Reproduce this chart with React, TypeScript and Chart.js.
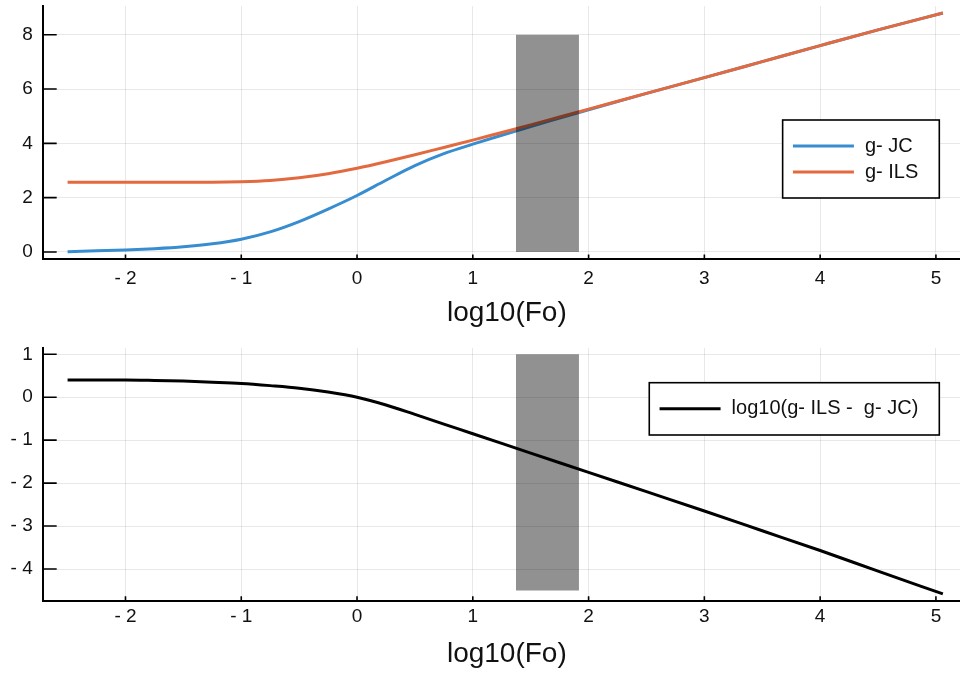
import React, { useEffect, useRef } from 'react';
import { Chart, registerables } from 'chart.js';

Chart.register(...registerables);

// ---- data ----
const xs = [-2.5, -2.25, -2, -1.75, -1.5, -1.25, -1, -0.75, -0.5, -0.25, 0, 0.25, 0.5, 0.75, 1, 1.25, 1.5, 1.75, 2, 2.5, 3, 3.5, 4, 4.5, 5.06];
const gJC = [0.01, 0.04, 0.07, 0.12, 0.19, 0.3, 0.47, 0.74, 1.12, 1.58, 2.08, 2.64, 3.18, 3.62, 3.97, 4.3, 4.62, 4.93, 5.24, 5.84, 6.42, 7.01, 7.6, 8.18, 8.8];
const gILS = [2.57, 2.57, 2.57, 2.57, 2.57, 2.57, 2.585, 2.63, 2.73, 2.88, 3.08, 3.32, 3.58, 3.85, 4.12, 4.4, 4.68, 4.97, 5.26, 5.84, 6.42, 7.01, 7.6, 8.18, 8.8];
const logDiff = [0.4, 0.4, 0.4, 0.39, 0.375, 0.35, 0.32, 0.27, 0.21, 0.12, 0.0, -0.18, -0.4, -0.625, -0.85, -1.075, -1.3, -1.525, -1.75, -2.2, -2.65, -3.11, -3.57, -4.05, -4.58];

const bandX = [1.373, 1.917];
const topBandY = [0, 8];
const bottomBandY = [-4.5, 1];

const xTickValues = [-2, -1, 0, 1, 2, 3, 4, 5];
const topYTickValues = [0, 2, 4, 6, 8];
const bottomYTickValues = [-4, -3, -2, -1, 0, 1];

const xRange = [-2.715, 5.303];
const topYRange = [-0.26, 9.06];
const bottomYRange = [-4.738, 1.146];

const nameJC = 'g- JC';
const nameILS = 'g- ILS';
const nameDiff = 'log10(g- ILS -  g- JC)';
const xTitle = 'log10(Fo)';

// ---- styles ----
const FONT = '"Liberation Sans", Arial, Helvetica, sans-serif';
const TEXT = '#111';
const BLUE = '#388dd0';
const ORANGE = '#e36a3f';
const BAND = 'rgba(0,0,0,0.43)';
const GRID = 'rgba(0,0,0,0.09)';

const fmt = (v: number) => (v < 0 ? '- ' + Math.abs(v) : String(v));

const innerTicks = {
  id: 'innerTicks',
  afterDatasetsDraw(chart: any) {
    const { ctx, chartArea: ca, scales } = chart;
    ctx.save();
    ctx.strokeStyle = '#000';
    ctx.lineWidth = 1.6;
    ctx.beginPath();
    scales.x.ticks.forEach((t: any) => {
      const p = scales.x.getPixelForValue(t.value);
      ctx.moveTo(p, ca.bottom);
      ctx.lineTo(p, ca.bottom - 4.5);
    });
    scales.y.ticks.forEach((t: any) => {
      const p = scales.y.getPixelForValue(t.value);
      ctx.moveTo(ca.left, p);
      ctx.lineTo(ca.left + 14, p);
    });
    ctx.stroke();
    ctx.restore();
  },
};

const boxLegend = {
  id: 'boxLegend',
  afterDraw(chart: any, _args: any, opts: any) {
    const { ctx, chartArea: ca } = chart;
    const items = chart.data.datasets.filter((d: any) => d.inLegend);
    ctx.save();
    ctx.font = `20px ${FONT}`;
    const tw = Math.max(...items.map((d: any) => ctx.measureText(d.label).width));
    const row = opts.row || 26;
    const w = 82.3 + tw + 21;
    const h = row * (items.length + 1);
    const right = ca.right - opts.right;
    const left = right - w;
    const top = ca.top + opts.top;
    ctx.fillStyle = '#fff';
    ctx.fillRect(left, top, w, h);
    ctx.strokeStyle = '#000';
    ctx.lineWidth = 1.6;
    ctx.strokeRect(left, top, w, h);
    items.forEach((d: any, i: number) => {
      const y = top + row * (i + 1);
      ctx.strokeStyle = d.borderColor;
      ctx.lineWidth = 3;
      ctx.beginPath();
      ctx.moveTo(left + 10.3, y);
      ctx.lineTo(left + 71.3, y);
      ctx.stroke();
      ctx.fillStyle = TEXT;
      ctx.textBaseline = 'middle';
      ctx.textAlign = 'left';
      ctx.fillText(d.label, left + 82.3, y);
    });
    ctx.restore();
  },
};

function pts(ys: number[]) {
  return xs.map((x, i) => ({ x, y: ys[i] }));
}

function bandDataset(yr: number[]) {
  return {
    label: 'band',
    data: [
      { x: bandX[0], y: yr[1] },
      { x: bandX[1], y: yr[1] },
    ],
    fill: { value: yr[0] },
    backgroundColor: BAND,
    borderColor: 'rgba(0,0,0,0)',
    borderWidth: 0,
    pointRadius: 0,
    tension: 0,
    order: 0,
    inLegend: false,
  };
}

function curve(label: string, ys: number[], color: string, order: number) {
  return {
    label,
    data: pts(ys),
    borderColor: color,
    backgroundColor: color,
    borderWidth: 3,
    pointRadius: 0,
    fill: false,
    cubicInterpolationMode: 'monotone',
    order,
    inLegend: true,
  };
}

function scales(yr: number[], yTicks: number[], xAxisH: number, tickPad: number, titlePadB: number) {
  return {
    x: {
      type: 'linear',
      min: xRange[0],
      max: xRange[1],
      afterBuildTicks: (s: any) => {
        s.ticks = xTickValues.map((v) => ({ value: v }));
      },
      afterFit: (s: any) => {
        s.height = xAxisH;
        s.paddingLeft = 0;
        s.paddingRight = 0;
      },
      ticks: {
        callback: (v: any) => fmt(Number(v)),
        font: { family: FONT, size: 19 },
        color: TEXT,
        padding: tickPad,
        maxRotation: 0,
        autoSkip: false,
      },
      grid: { color: GRID, lineWidth: 1, drawTicks: false },
      border: { color: '#000', width: 2 },
      title: {
        display: true,
        text: xTitle,
        font: { family: FONT, size: 28 },
        color: TEXT,
        padding: { top: 0, bottom: titlePadB },
      },
    },
    y: {
      type: 'linear',
      min: yr[0],
      max: yr[1],
      afterBuildTicks: (s: any) => {
        s.ticks = yTicks.map((v) => ({ value: v }));
      },
      afterFit: (s: any) => {
        s.width = 42.7;
        s.paddingTop = 0;
        s.paddingBottom = 0;
      },
      ticks: {
        callback: (v: any) => fmt(Number(v)),
        font: { family: FONT, size: 19 },
        color: TEXT,
        padding: 10,
      },
      grid: { color: GRID, lineWidth: 1, drawTicks: false },
      border: { color: '#000', width: 2 },
    },
  };
}

export default function App() {
  const topRef = useRef<HTMLCanvasElement>(null);
  const botRef = useRef<HTMLCanvasElement>(null);

  useEffect(() => {
    const top = new Chart(topRef.current as HTMLCanvasElement, {
      type: 'line',
      data: {
        datasets: [curve(nameJC, gJC, BLUE, 2), curve(nameILS, gILS, ORANGE, 1), bandDataset(topBandY)] as any,
      },
      options: {
        animation: false,
        responsive: false,
        devicePixelRatio: 1,
        events: [],
        layout: { padding: { top: 6, right: 0, left: 0, bottom: 0 } },
        scales: scales(topYRange, topYTickValues, 78, 8, 7.4) as any,
        plugins: {
          legend: { display: false },
          tooltip: { enabled: false },
          boxLegend: { right: 31.7, top: 114, row: 26 },
        } as any,
      },
      plugins: [innerTicks, boxLegend],
    });

    const bottom = new Chart(botRef.current as HTMLCanvasElement, {
      type: 'line',
      data: {
        datasets: [curve(nameDiff, logDiff, '#000', 1), bandDataset(bottomBandY)] as any,
      },
      options: {
        animation: false,
        responsive: false,
        devicePixelRatio: 1,
        events: [],
        layout: { padding: { top: 11, right: 0, left: 0, bottom: 0 } },
        scales: scales(bottomYRange, bottomYTickValues, 74.3, 5, 3.7) as any,
        plugins: {
          legend: { display: false },
          tooltip: { enabled: false },
          boxLegend: { right: 31.7, top: 34.7, row: 26.15 },
        } as any,
      },
      plugins: [innerTicks, boxLegend],
    });

    return () => {
      top.destroy();
      bottom.destroy();
    };
  }, []);

  return (
    <div
      style={{
        position: 'absolute',
        left: 0,
        top: 0,
        width: 960,
        height: 675,
        overflow: 'hidden',
        background: '#fff',
      }}
    >
      <canvas ref={topRef} width={971} height={337} style={{ display: 'block' }} />
      <canvas ref={botRef} width={971} height={338} style={{ display: 'block' }} />
    </div>
  );
}
